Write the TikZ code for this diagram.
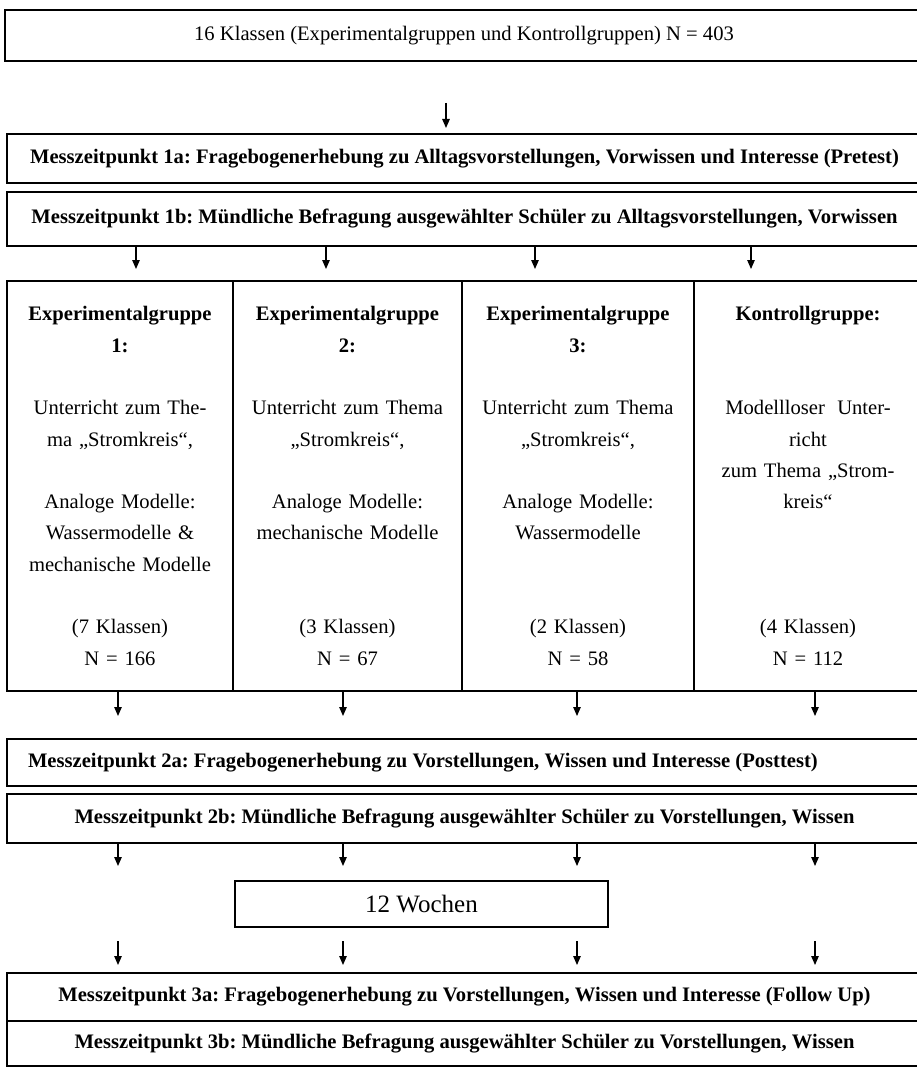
\documentclass[tikz,border=0pt]{standalone}
\usepackage{fontspec}
\setmainfont{Liberation Serif}
\usepackage{tikz}
\usetikzlibrary{arrows.meta}

\newcommand{\grundschrift}{\fontsize{20.6}{31.3}\selectfont\frenchspacing}
\newcommand{\wochenschrift}{\fontsize{25}{30}\selectfont}

\begin{document}
\begin{tikzpicture}[x=1pt, y=-1pt, >={Triangle[length=9pt,width=7.5pt]},
    kasten/.style={draw, line width=1.6pt, inner sep=0pt, outer sep=0pt, font=\grundschrift},
    zelle/.style={draw, line width=1.4pt, inner sep=0pt, outer sep=0pt, minimum height=410, align=center, font=\grundschrift},
    pfeil/.style={->, line width=1.2pt}]
    \useasboundingbox (0,0) rectangle (916,1067);

    % Stichprobe
    \node[kasten, minimum width=918, minimum height=51] (gesamt) at (464,35.5)
        {16 Klassen (Experimentalgruppen und Kontrollgruppen) N = 403};

    % Messzeitpunkt 1
    \node[kasten, minimum width=915, minimum height=49, font=\grundschrift\bfseries] (mz1a) at (464.5,158.5)
        {Messzeitpunkt 1a: Fragebogenerhebung zu Alltagsvorstellungen, Vorwissen und Interesse (Pretest)};
    \node[kasten, minimum width=915, minimum height=54, font=\grundschrift\bfseries] (mz1b) at (464.5,219)
        {Messzeitpunkt 1b: Mündliche Befragung ausgewählter Schüler zu Alltagsvorstellungen, Vorwissen};

    % Gruppen
    \node[zelle, minimum width=226, text width=216] (g1) at (120,486)
        {\textbf{Experimentalgruppe}\\ \textbf{1:}\\ ~\\ Unterricht zum The-\\ ma „Stromkreis“,\\ ~\\
         Analoge Modelle:\\ Wassermodelle \&\\ mechanische Modelle\\ ~\\ (7 Klassen)\\ N = 166};
    \node[zelle, minimum width=229, text width=219] (g2) at (347.5,486)
        {\textbf{Experimentalgruppe}\\ \textbf{2:}\\ ~\\ Unterricht zum Thema\\ „Stromkreis“,\\ ~\\
         Analoge Modelle:\\ mechanische Modelle\\ ~\\ ~\\ (3 Klassen)\\ N = 67};
    \node[zelle, minimum width=232, text width=222] (g3) at (578,486)
        {\textbf{Experimentalgruppe}\\ \textbf{3:}\\ ~\\ Unterricht zum Thema\\ „Stromkreis“,\\ ~\\
         Analoge Modelle:\\ Wassermodelle\\ ~\\ ~\\ (2 Klassen)\\ N = 58};
    \node[zelle, minimum width=228, text width=218] (g4) at (808,486)
        {\textbf{Kontrollgruppe:}\\ ~\\ ~\\ Modellloser\hspace{0.6em}Unter-\\ richt\\ zum Thema „Strom-\\
         kreis“\\ ~\\ ~\\ ~\\ (4 Klassen)\\ N = 112};

    % Messzeitpunkt 2
    \node[kasten, minimum width=915, minimum height=47, text width=873, inner xsep=21pt, align=flush left,
          font=\grundschrift\bfseries] (mz2a) at (464.5,762.5)
        {Messzeitpunkt 2a: Fragebogenerhebung zu Vorstellungen, Wissen und Interesse (Posttest)};
    \node[kasten, minimum width=915, minimum height=49, font=\grundschrift\bfseries] (mz2b) at (464.5,818.5)
        {Messzeitpunkt 2b: Mündliche Befragung ausgewählter Schüler zu Vorstellungen, Wissen};

    % Pause
    \node[kasten, minimum width=373, minimum height=46, font=\wochenschrift] (wochen) at (421.5,904) {12 Wochen};

    % Messzeitpunkt 3
    \node[kasten, minimum width=915, minimum height=48, font=\grundschrift\bfseries] (mz3a) at (464.5,997)
        {Messzeitpunkt 3a: Fragebogenerhebung zu Vorstellungen, Wissen und Interesse (Follow Up)};
    \node[kasten, minimum width=915, minimum height=45, font=\grundschrift\bfseries] (mz3b) at (464.5,1043.5)
        {Messzeitpunkt 3b: Mündliche Befragung ausgewählter Schüler zu Vorstellungen, Wissen};

    % Pfeile
    \coordinate (m) at (446,0);
    \foreach \x [count=\i] in {136,326,535,751} \coordinate (o\i) at (\x,0);
    \foreach \x [count=\i] in {118,343,577,815} \coordinate (u\i) at (\x,0);

    \draw[pfeil, shorten <=42pt, shorten >=6pt] (gesamt.south -| m) -- (mz1a.north -| m);
    \foreach \i in {1,...,4} {
        \draw[pfeil, shorten >=12pt] (mz1b.south -| o\i) -- (g\i.north -| o\i);
        \draw[pfeil, shorten >=23pt] (g\i.south -| u\i) -- (mz2a.north -| u\i);
    }
    \foreach \i in {1,4} {
        \draw[pfeil, shorten >=107pt] (mz2b.south -| u\i) -- (mz3a.north -| u\i);
        \draw[pfeil, shorten <=98pt, shorten >=8pt] (mz2b.south -| u\i) -- (mz3a.north -| u\i);
    }
    \foreach \i in {2,3} {
        \draw[pfeil, shorten >=15pt] (mz2b.south -| u\i) -- (wochen.north -| u\i);
        \draw[pfeil, shorten <=14pt, shorten >=8pt] (wochen.south -| u\i) -- (mz3a.north -| u\i);
    }
\end{tikzpicture}
\end{document}
